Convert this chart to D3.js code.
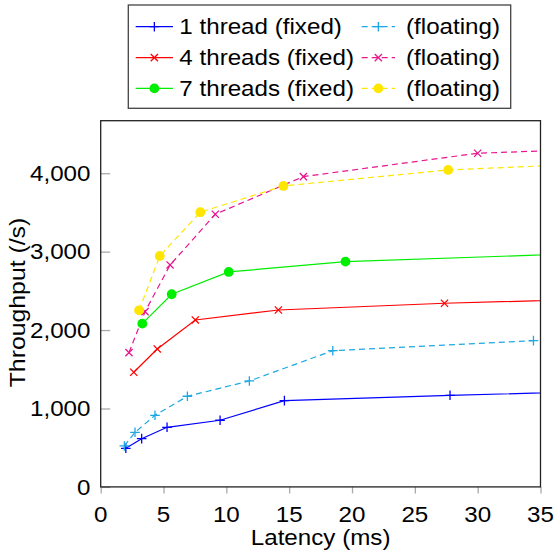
<!DOCTYPE html>
<html><head><meta charset="utf-8">
<script src="https://cdn.jsdelivr.net/npm/d3@7"></script>
<style>
body{margin:0;background:#fff}
text{font-family:"Liberation Sans",Arial,Helvetica,sans-serif;fill:#000}
</style>
</head><body>
<svg id="c" width="555" height="551"></svg>
<script>
// ---- data ----
const xTicks = [0, 5, 10, 15, 20, 25, 30, 35];
const yTicks = [0, 1000, 2000, 3000, 4000];
const xLabel = "Latency (ms)";
const yLabel = "Throughput (/s)";

const t1FixedX = [2.0, 3.26, 5.28, 9.5, 14.62, 27.8, 40];
const t1FixedY = [492, 615, 760, 850, 1100, 1168, 1219];
const t1FloatX = [1.88, 2.73, 4.32, 6.9, 11.83, 18.47, 34.44];
const t1FloatY = [522, 696, 913, 1156, 1351, 1737, 1865];
const t4FixedX = [2.63, 4.5, 7.53, 14.14, 27.36, 40];
const t4FixedY = [1462, 1759, 2129, 2256, 2342, 2397];
const t4FloatX = [2.25, 3.53, 5.52, 9.12, 16.13, 30.0, 40];
const t4FloatY = [1712, 2235, 2830, 3477, 3957, 4255, 4313];
const t7FixedX = [3.31, 5.65, 10.19, 19.48, 40];
const t7FixedY = [2082, 2457, 2741, 2873, 2985];
const t7FloatX = [3.05, 4.7, 7.93, 14.54, 27.65, 40];
const t7FloatY = [2252, 2945, 3503, 3838, 4042, 4128];

const seriesNames = ["1 thread (fixed)", "(floating)", "4 threads (fixed)", "(floating)", "7 threads (fixed)", "(floating)"];

// ---- series table built from arrays ----
const series = [
  {name: seriesNames[0], xs: t1FixedX, ys: t1FixedY, color: "#0000ff", dash: null, marker: "plus"},
  {name: seriesNames[1], xs: t1FloatX, ys: t1FloatY, color: "#1ca8e3", dash: "6,4", marker: "plus"},
  {name: seriesNames[2], xs: t4FixedX, ys: t4FixedY, color: "#ff0000", dash: null, marker: "cross"},
  {name: seriesNames[3], xs: t4FloatX, ys: t4FloatY, color: "#e8168f", dash: "6,4", marker: "cross"},
  {name: seriesNames[4], xs: t7FixedX, ys: t7FixedY, color: "#00ee00", dash: null, marker: "circle"},
  {name: seriesNames[5], xs: t7FloatX, ys: t7FloatY, color: "#ffe600", dash: "6,4", marker: "circle"}
];

const svg = d3.select("#c");
const FS = 21.4, SX = 1.13;
const L = 100.7, R = 540.5, T = 120.7, B = 486.9;

const x = d3.scaleLinear().domain([0, 35]).range([L, R]);
const y = d3.scaleLinear().domain([0, 4670]).range([B, T]);

function txt(g, s, tx, ty, anchor, rot, sx) {
  return g.append("text")
    .attr("transform", `translate(${tx},${ty})` + (rot ? ` rotate(${rot})` : "") + ` scale(${sx || SX},1)`)
    .attr("text-anchor", anchor)
    .style("font-size", FS + "px")
    .text(s);
}

// clip
svg.append("defs").append("clipPath").attr("id", "clip")
  .append("rect").attr("x", L).attr("y", T).attr("width", R - L).attr("height", B - T);

// axes (ticks via d3 axes)
const xAxis = svg.append("g").attr("transform", `translate(0,${B})`)
  .call(d3.axisBottom(x).tickValues(xTicks).tickSize(6.5).tickFormat(""));
xAxis.select(".domain").remove();
xAxis.selectAll(".tick line").attr("stroke", "#aaa").attr("stroke-width", 1.3);

const yAxis = svg.append("g").attr("transform", `translate(${L},0)`)
  .call(d3.axisRight(y).tickValues(yTicks).tickSize(9.5).tickFormat(""));
yAxis.select(".domain").remove();
yAxis.selectAll(".tick line").attr("stroke", "#aaa").attr("stroke-width", 1.3);

const fmt = d3.format(",");
const lab = svg.append("g");
xTicks.forEach(v => txt(lab, String(v), x(v), 521.5, "middle"));
yTicks.forEach(v => txt(lab, fmt(v), 90.5, y(v) + 7.6, "end"));
txt(lab, xLabel, (L + R) / 2, 544.5, "middle");
txt(lab, yLabel, 25, 302.5, "middle", -90, 1.16);

// lines
const plot = svg.append("g").attr("clip-path", "url(#clip)");
const line = d3.line().x(d => x(d[0])).y(d => y(d[1]));

function markerPath(type) {
  if (type === "plus") { const s = 4.8; return `M${-s},0H${s}M0,${-s}V${s}`; }
  if (type === "cross") { const s = 3.6; return `M${-s},${-s}L${s},${s}M${-s},${s}L${s},${-s}`; }
  return null;
}
function drawMarker(g, type, cx, cy, color) {
  if (type === "circle") {
    g.append("circle").attr("cx", cx).attr("cy", cy).attr("r", 4.9).attr("fill", color);
  } else {
    g.append("path").attr("d", markerPath(type)).attr("transform", `translate(${cx},${cy})`)
      .attr("stroke", color).attr("stroke-width", 1.3).attr("fill", "none");
  }
}

series.forEach(s => {
  const pts = s.xs.map((v, i) => [v, s.ys[i]]);
  plot.append("path").datum(pts).attr("d", line)
    .attr("fill", "none").attr("stroke", s.color).attr("stroke-width", 1.2)
    .attr("stroke-dasharray", s.dash);
  pts.forEach(p => drawMarker(plot, s.marker, x(p[0]), y(p[1]), s.color));
});

// frame
svg.append("rect").attr("x", L).attr("y", T).attr("width", R - L).attr("height", B - T)
  .attr("fill", "none").attr("stroke", "#222").attr("stroke-width", 1.3);

// legend
const lg = svg.append("g");
lg.append("rect").attr("x", 128.3).attr("y", 5).attr("width", 382.4).attr("height", 103.3)
  .attr("fill", "#fff").attr("stroke", "#444").attr("stroke-width", 1.3);
const rowY = [26.7, 57.6, 88.4];
const colLine = [[135.7, 173], [361.7, 395]];
const colText = [179.3, 406];
series.forEach((s, i) => {
  const r = Math.floor(i / 2), c = i % 2;
  const ly = rowY[r];
  lg.append("line").attr("x1", colLine[c][0]).attr("x2", colLine[c][1]).attr("y1", ly).attr("y2", ly)
    .attr("stroke", s.color).attr("stroke-width", 1.2).attr("stroke-dasharray", s.dash);
  drawMarker(lg, s.marker, (colLine[c][0] + colLine[c][1]) / 2, ly, s.color);
  txt(lg, s.name, colText[c], ly + 7.3, "start");
});
</script>
</body></html>
